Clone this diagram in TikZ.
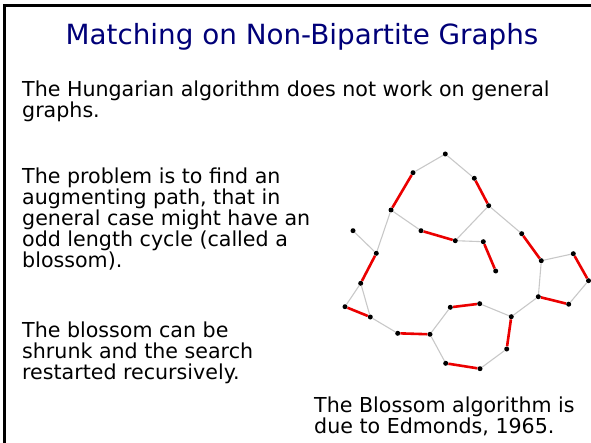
\documentclass[tikz,border=0pt]{standalone}
\usepackage{fontspec}
\setmainfont{DejaVu Sans}
\definecolor{titleblue}{RGB}{0,0,120}
\definecolor{edgegray}{RGB}{200,200,200}
\definecolor{matchred}{RGB}{235,0,0}
\begin{document}
\begin{tikzpicture}[x=1pt,y=-1pt,
  vtx/.style={circle,fill=black,inner sep=0pt,minimum size=5pt},
  plain/.style={draw=edgegray,line width=1.1pt},
  matched/.style={draw=matchred,line width=2.6pt},
  body/.style={anchor=base west,inner sep=0pt,font=\fontsize{20.6}{21}\selectfont},
  ttl/.style={font=\fontsize{27.8}{30}\selectfont,text=titleblue,inner sep=0pt}]
\useasboundingbox (0,0) rectangle (591,443);
\draw[line width=3pt] (4.5,443) -- (4.5,5.5) -- (591,5.5);
\node[ttl] (title) at (302,37) {Matching on Non-Bipartite Graphs};
\node[body] (h1) at (22,97) {The Hungarian algorithm does not work on general};
\node[body] (h2) at (22,118) {graphs.};
\node[body] (p1) at (22,184) {The problem is to find an};
\node[body] (p2) at (22,205) {augmenting path, that in};
\node[body] (p3) at (22,226) {general case might have an};
\node[body] (p4) at (22,247) {odd length cycle (called a};
\node[body] (p5) at (22,268) {blossom).};
\node[body] (q1) at (22,337) {The blossom can be};
\node[body] (q2) at (22,358) {shrunk and the search};
\node[body] (q3) at (22,379) {restarted recursively.};
\node[body] (e1) at (314,412) {The Blossom algorithm is};
\node[body] (e2) at (314,433) {due to Edmonds, 1965.};
% vertices
\node[vtx] (A) at (445.3,154) {};
\node[vtx] (B) at (413,172.7) {};
\node[vtx] (C) at (474.3,178.3) {};
\node[vtx] (D) at (488.7,205.7) {};
\node[vtx] (E) at (391,210) {};
\node[vtx] (F) at (353,230.7) {};
\node[vtx] (G) at (421,230.7) {};
\node[vtx] (H) at (455.3,240.7) {};
\node[vtx] (I) at (483.3,241.7) {};
\node[vtx] (J) at (521.7,233.7) {};
\node[vtx] (K) at (376.3,253.3) {};
\node[vtx] (L) at (495.7,271) {};
\node[vtx] (M) at (541.3,260.7) {};
\node[vtx] (N) at (573.3,253.7) {};
\node[vtx] (O) at (588.5,280.7) {};
\node[vtx] (P) at (360.7,283.3) {};
\node[vtx] (Q) at (538.3,296.7) {};
\node[vtx] (R) at (568.7,304.2) {};
\node[vtx] (S) at (345,306.7) {};
\node[vtx] (T) at (450.3,307.3) {};
\node[vtx] (U) at (479.7,303.7) {};
\node[vtx] (V) at (370.3,317) {};
\node[vtx] (W) at (397.7,333.3) {};
\node[vtx] (X) at (430,334.3) {};
\node[vtx] (Y) at (511.3,316.7) {};
\node[vtx] (Z) at (506.7,349) {};
\node[vtx] (AA) at (445.7,363.3) {};
\node[vtx] (AB) at (480,368.7) {};
\foreach \a/\b in {A/B,A/C,E/G,D/H,D/J,H/I,E/K,F/K,P/S,P/V,V/W,X/T,U/Y,Y/Q,X/AA,AB/Z,M/Q,M/N,O/R}
  \draw[plain] (\a) -- (\b);
\foreach \a/\b in {B/E,C/D,G/H,I/L,J/M,K/P,N/O,Q/R,S/V,W/X,T/U,Y/Z,AA/AB}
  \draw[matched] (\a) -- (\b);
\end{tikzpicture}
\end{document}
